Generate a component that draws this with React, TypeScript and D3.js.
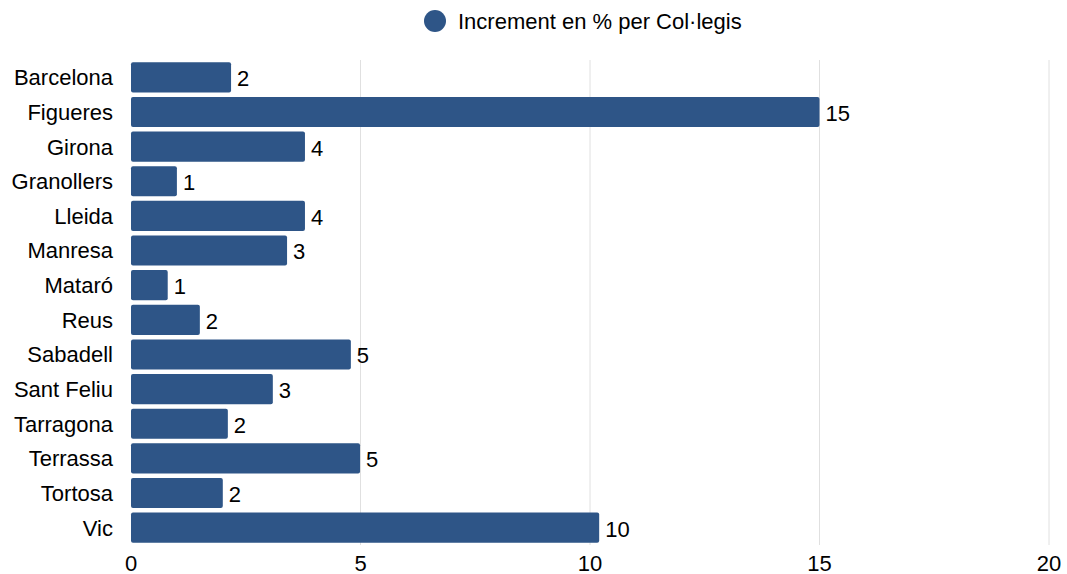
import React from "react";
import * as d3 from "d3";

const categories = ["Barcelona","Figueres","Girona","Granollers","Lleida","Manresa","Mataró","Reus","Sabadell","Sant Feliu","Tarragona","Terrassa","Tortosa","Vic"];
const values = [2.18,15.0,3.79,1.0,3.79,3.4,0.8,1.5,4.79,3.09,2.11,4.99,2.0,10.2];
const xTicks = [0,5,10,15,20];
const seriesName = "Increment en % per Col·legis";

const W = 1067, H = 574;
const left = 131, right = 1049, top = 60, bottom = 545;
const color = "#2e5587";
const font = "'Liberation Sans', Arial, sans-serif";
const fs = 22;

export default function App() {
  const x = d3.scaleLinear().domain([0, 20]).range([left, right]);
  const y = d3.scaleBand().domain(categories).range([top, bottom]).paddingInner(0.13).paddingOuter(0.065);
  return (
    <svg width={W} height={H} style={{ position: "absolute", left: 0, top: 0 }} fontFamily={font}>
      <rect width={W} height={H} fill="#fff" />
      {xTicks.filter(t => t > 0).map(t => (
        <line key={t} x1={x(t)} x2={x(t)} y1={top} y2={bottom} stroke="#e0e0e0" strokeWidth={1} />
      ))}
      {categories.map((c, i) => (
        <g key={c}>
          <rect x={x(0)} y={y(c)!} width={x(values[i]) - x(0)} height={y.bandwidth()} fill={color} rx={2} />
          <text x={x(values[i]) + 6} y={y(c)! + y.bandwidth() / 2 + 1} dy="0.36em" fontSize={fs} fill="#000">{Math.round(values[i])}</text>
          <text x={113} y={y(c)! + y.bandwidth() / 2} dy="0.36em" fontSize={fs} fill="#000" textAnchor="end">{c}</text>
        </g>
      ))}
      {xTicks.map(t => (
        <text key={t} x={x(t)} y={563} dy="0.36em" fontSize={fs} textAnchor="middle" fill="#000">{t}</text>
      ))}
      <circle cx={435} cy={21} r={11} fill={color} />
      <text x={458} y={21} dy="0.36em" fontSize={fs} fill="#000">{seriesName}</text>
    </svg>
  );
}
